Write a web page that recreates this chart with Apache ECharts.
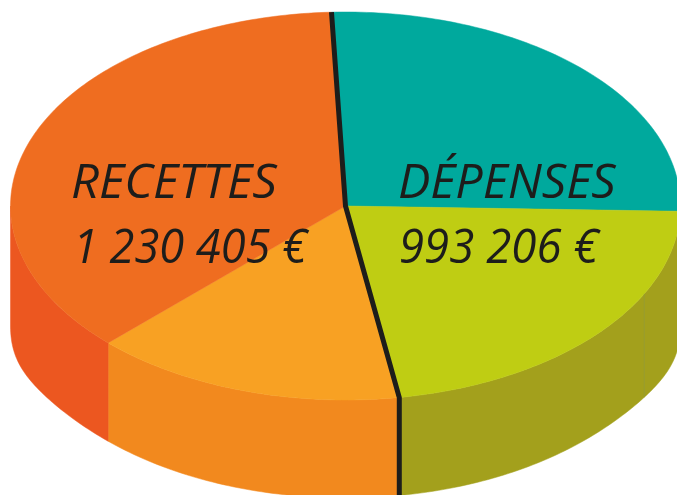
<!DOCTYPE html>
<html>
<head>
<meta charset="utf-8">
<style>
  html, body { margin: 0; padding: 0; background: #fff; overflow: hidden; }
  #chart { width: 677px; height: 495px; }
</style>
<script src="https://cdn.jsdelivr.net/npm/echarts@6/dist/echarts.min.js"></script>
</head>
<body>
<div id="chart"></div>
<script>
// slices clockwise, starting from the dark line at the top
const sliceNames = ["Dépenses 1", "Dépenses 2", "Recettes 1", "Recettes 2"];
const sliceValues = [26.1, 22.0, 15.1, 36.8];
const topColors = ["#00a99d", "#bfcd13", "#f8a123", "#ef6d20"];
const wallColors = ["#00a99d", "#a3a01c", "#f2891e", "#ec5720"];
const captions = ["RECETTES", "1 230 405 €", "DÉPENSES", "993 206 €"];

const startDeg = -2.4;
const cx = 345.5, cy = 206, rx = 335, ry = 194;
const wallDepth = 98, edgeDepth = 22;
const seamDeg = 116.9;
const ink = "#1d1d1b";

const total = sliceValues.reduce((a, b) => a + b, 0);

function toDeg(value) {
    return (value / total) * 360;
}

function boundary(i) {
    let sum = 0;
    for (let k = 0; k < i; k++) sum += sliceValues[k];
    return startDeg + toDeg(sum);
}

function topPoint(deg) {
    const a = (deg * Math.PI) / 180;
    return [cx + rx * Math.sin(a), cy - ry * Math.cos(a)];
}

// the bottom rim is not a true ellipse, the wall gets taller near the sides
function bottomPoint(deg) {
    const a = (deg * Math.PI) / 180;
    const top = topPoint(deg);
    return [top[0], top[1] + wallDepth + edgeDepth * Math.pow(Math.abs(Math.sin(a)), 12)];
}

function arc(from, to, fn) {
    const pts = [];
    const steps = Math.max(2, Math.ceil(to - from));
    for (let s = 0; s <= steps; s++) pts.push(fn(from + ((to - from) * s) / steps));
    return pts;
}

function renderSlice(params) {
    const i = params.dataIndex;
    const from = boundary(i);
    const to = boundary(i + 1);
    const children = [];

    // only the front half of the cylinder shows a wall
    const wallFrom = Math.max(from, 90);
    const wallTo = Math.min(to, 270);
    if (wallTo > wallFrom) {
        children.push({
            type: "polygon",
            shape: {
                points: arc(wallFrom, wallTo, topPoint).concat(
                    arc(wallFrom, wallTo, bottomPoint).reverse(),
                ),
            },
            style: { fill: wallColors[i], stroke: wallColors[i], lineWidth: 0.5 },
        });
    }
    children.push({
        type: "polygon",
        shape: { points: [[cx, cy]].concat(arc(from, to, topPoint)) },
        style: { fill: topColors[i], stroke: topColors[i], lineWidth: 0.5 },
    });
    return { type: "group", children: children };
}

// dark line between recettes and dépenses, plus the faint seam in the olive wall
function renderDivider() {
    const top = boundary(0);
    const low = boundary(2);
    return {
        type: "group",
        children: [
            {
                type: "polyline",
                shape: { points: [topPoint(seamDeg), bottomPoint(seamDeg)] },
                style: { fill: null, stroke: "#8f9a3f", lineWidth: 0.6 },
            },
            {
                type: "polyline",
                shape: {
                    points: [topPoint(top), [cx, cy], topPoint(low), bottomPoint(low)],
                },
                style: { fill: null, stroke: ink, lineWidth: 5, lineJoin: "miter" },
            },
        ],
    };
}

function caption(text, x, y, scaleX) {
    return {
        type: "text",
        x: x,
        y: y,
        scaleX: scaleX,
        z: 10,
        style: {
            text: text,
            fill: ink,
            font: "italic 47px 'Open Sans'",
        },
    };
}

const chart = echarts.init(document.getElementById("chart"), null, { renderer: "canvas" });
chart.setOption({
    animation: false,
    backgroundColor: "#ffffff",
    tooltip: { show: false },
    series: [
        {
            type: "custom",
            coordinateSystem: "none",
            silent: true,
            clip: false,
            data: sliceNames.map((name, i) => ({ name: name, value: sliceValues[i] })),
            renderItem: renderSlice,
            z: 1,
        },
        {
            type: "custom",
            coordinateSystem: "none",
            silent: true,
            clip: false,
            data: [0],
            renderItem: renderDivider,
            z: 2,
        },
    ],
    graphic: [
        caption(captions[0], 71, 161, 1.04),
        caption(captions[1], 73, 226, 0.96),
        caption(captions[2], 398, 161, 1.03),
        caption(captions[3], 399, 226, 0.97),
    ],
});
</script>
</body>
</html>
